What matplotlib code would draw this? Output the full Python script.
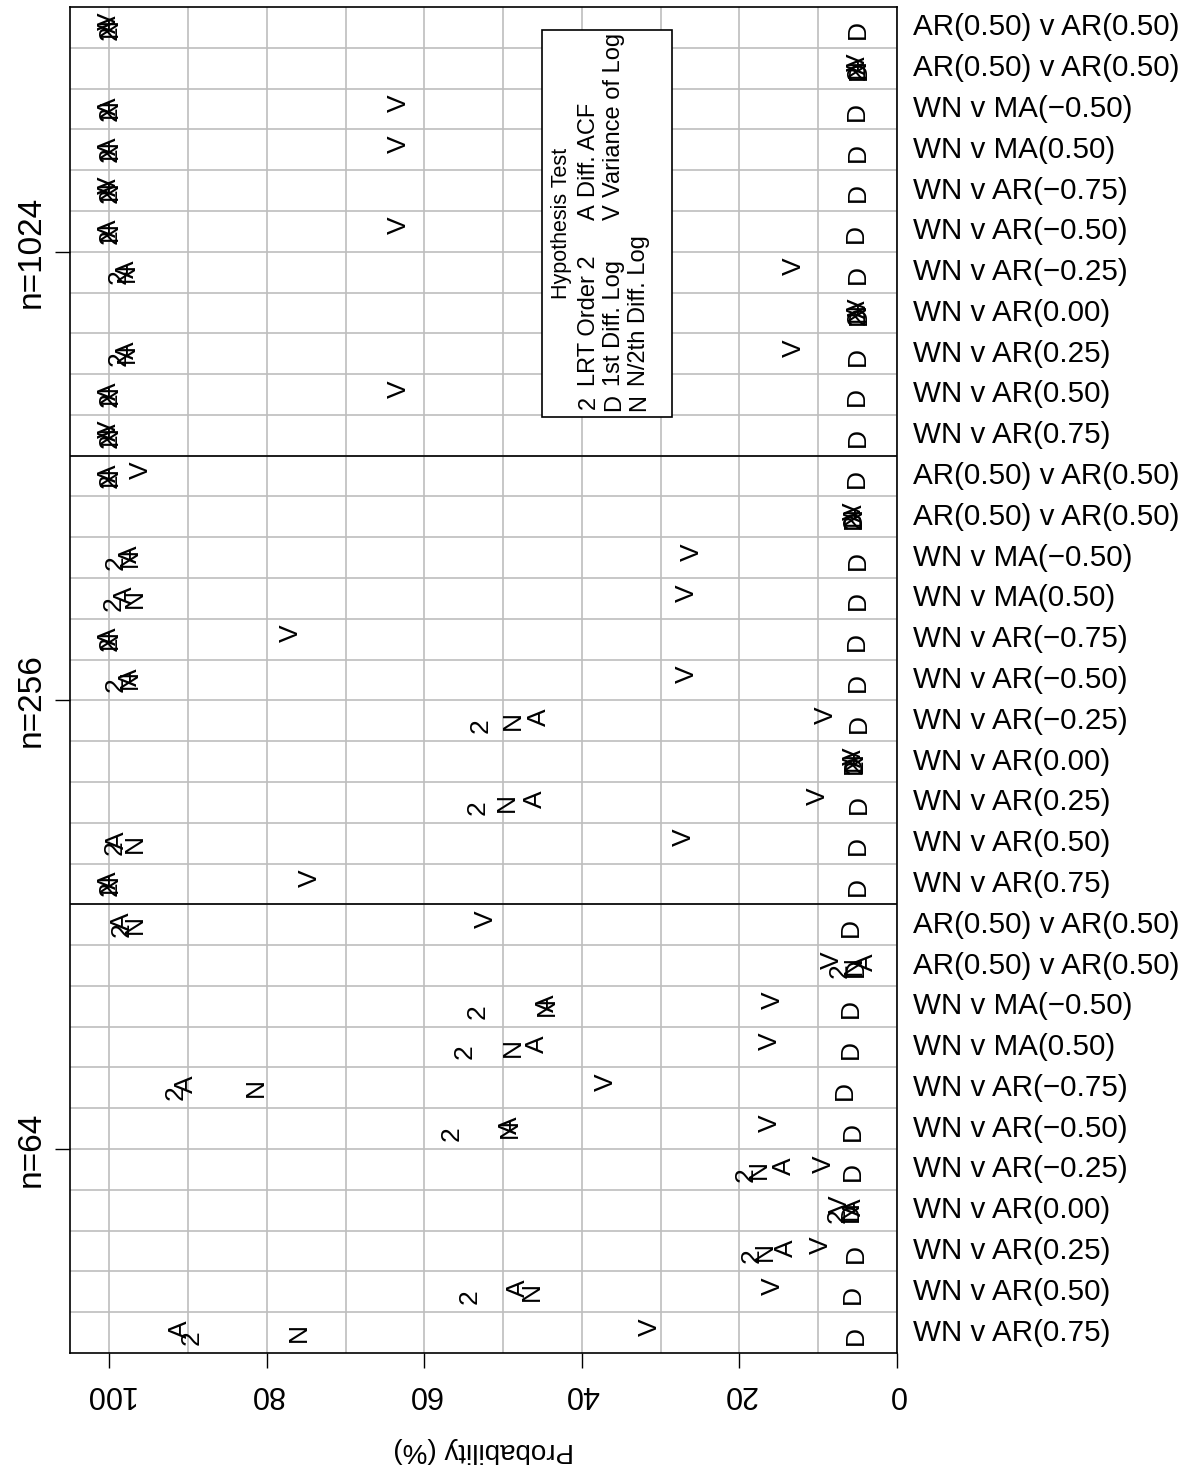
import matplotlib
matplotlib.use("Agg")
import matplotlib.pyplot as plt
from matplotlib.patches import Rectangle

plt.rcParams['font.family'] = ['Liberation Sans', 'DejaVu Sans']

# row labels within one sample-size block (top to bottom)
models = ["AR(0.50) v AR(0.50)", "AR(0.50) v AR(0.50)", "WN v MA(\u22120.50)",
          "WN v MA(0.50)", "WN v AR(\u22120.75)", "WN v AR(\u22120.50)",
          "WN v AR(\u22120.25)", "WN v AR(0.00)", "WN v AR(0.25)",
          "WN v AR(0.50)", "WN v AR(0.75)"]
sample_sizes = ["n=1024", "n=256", "n=64"]

# probability (%) per test, blocks n=1024, n=256, n=64
lrt2 = [100, 5.0, 100, 100, 100, 100, 98.8, 5.0, 98.8, 100, 100,
        100, 5.5, 99.2, 99.5, 100, 99.2, 52.9, 5.3, 53.2, 99.3, 100,
        98.4, 7.3, 53.2, 54.9, 91.6, 56.6, 19.2, 7.6, 18.5, 54.2, 89.6]
diff1 = [5.0, 4.8, 5.1, 5.0, 5.0, 5.2, 5.0, 4.9, 5.0, 5.1, 5.0,
         5.1, 5.5, 5.0, 5.0, 5.1, 5.0, 4.9, 5.5, 4.9, 5.0, 5.0,
         5.9, 5.2, 5.9, 5.9, 6.6, 5.6, 5.6, 5.9, 5.2, 5.6, 5.2]
half = [100, 5.0, 100, 100, 100, 100, 97.8, 5.0, 97.8, 100, 100,
        100, 5.5, 97.4, 96.7, 100, 97.4, 48.8, 5.3, 49.5, 96.7, 100,
        96.7, 5.5, 44.4, 48.8, 81.4, 49.1, 17.5, 5.9, 16.8, 46.4, 76.0]
acf = [100, 5.0, 100, 100, 100, 100, 97.8, 5.0, 97.8, 100, 100,
       100, 5.3, 97.4, 98.0, 100, 97.4, 45.4, 5.5, 46.0, 99.0, 100,
       98.4, 4.0, 44.4, 45.7, 90.3, 49.1, 14.4, 5.5, 14.1, 48.1, 91.0]
varlog = [100, 5.0, 63.3, 63.3, 100, 63.3, 13.1, 4.8, 13.1, 63.3, 100,
          96.0, 5.5, 26.0, 26.7, 77.0, 26.7, 9.0, 5.5, 10.0, 27.0, 74.6,
          52.2, 8.3, 15.8, 16.1, 36.9, 16.1, 9.3, 7.3, 9.7, 15.8, 31.4]

tests = [("2", "LRT Order 2", lrt2, 0.12),
         ("D", "1st Diff. Log", diff1, 0.06),
         ("N", "N/2th Diff. Log", half, 0.0),
         ("A", "Diff. ACF", acf, -0.08),
         ("V", "Variance of Log", varlog, -0.14)]

n_rows = len(models) * len(sample_sizes)
rows = list(range(n_rows))

fig = plt.figure(figsize=(12, 14.79), dpi=100)
ax = fig.add_axes([70 / 1200, 1 - 1353 / 1479, 827 / 1200, 1346 / 1479])
ax.set_xlim(105, 0)
ax.set_ylim(n_rows - 0.5, -0.5)

# grid
for gx in range(0, 101, 10):
    ax.axvline(gx, color="#bebebe", lw=1.2, zorder=0)
for r in rows[:-1]:
    ax.axhline(r + 0.5, color="#bebebe", lw=1.2, zorder=0)
for k in range(1, len(sample_sizes)):
    ax.axhline(k * len(models) - 0.5, color="black", lw=1.2, zorder=1)

# rotated character markers
for sym, name, vals, off in tests:
    for r, v in zip(rows, vals):
        ax.text(v, r + off, sym, rotation=90, ha="center", va="center",
                fontsize=19, zorder=3)

# row labels on the right
for r in rows:
    ax.text(1.019, r, models[r % len(models)], transform=ax.get_yaxis_transform(),
            ha="left", va="center", fontsize=21.3, clip_on=False)

# sample size ticks on the left
ax.set_yticks([k * len(models) + 5.5 for k in range(len(sample_sizes))])
ax.set_yticklabels(sample_sizes, rotation=90, va="center", fontsize=24)
ax.tick_params(axis="y", length=11, width=1, pad=6)

ax.set_xticks([0, 20, 40, 60, 80, 100])
ax.set_xticklabels(["0", "20", "40", "60", "80", "100"], rotation=180, fontsize=22)
ax.tick_params(axis="x", length=11, width=1, pad=8)
ax.set_xlabel("Probability (%)", rotation=180, fontsize=20, labelpad=20)

for s in ax.spines.values():
    s.set_linewidth(1.2)

# legend box (drawn by hand, rotated text)
ax.add_patch(Rectangle((45.1, 0.07), 28.55 - 45.1, 9.55 - 0.07, fill=False,
                       edgecolor="black", lw=1.2, zorder=4))
ax.add_patch(Rectangle((45.1, 0.07), 28.55 - 45.1, 9.55 - 0.07, facecolor="white",
                       edgecolor="none", zorder=2))
ax.text(42.65, 4.8, "Hypothesis Test", rotation=90, ha="center", va="center",
        fontsize=15.5, zorder=5)
col_x = [39.1, 35.9, 32.7]
for i, (sym, name, vals, off) in enumerate(tests):
    if i < 3:
        x, ys, yl = col_x[i], 9.2, 8.8
    else:
        x, ys, yl = col_x[i - 3], 4.52, 4.15
    ax.text(x, ys, sym, rotation=90, ha="center", va="center", fontsize=17, zorder=5)
    ax.text(x, yl, name, rotation=90, ha="center", va="bottom", fontsize=17, zorder=5)

fig.savefig("out.png", dpi=100)
